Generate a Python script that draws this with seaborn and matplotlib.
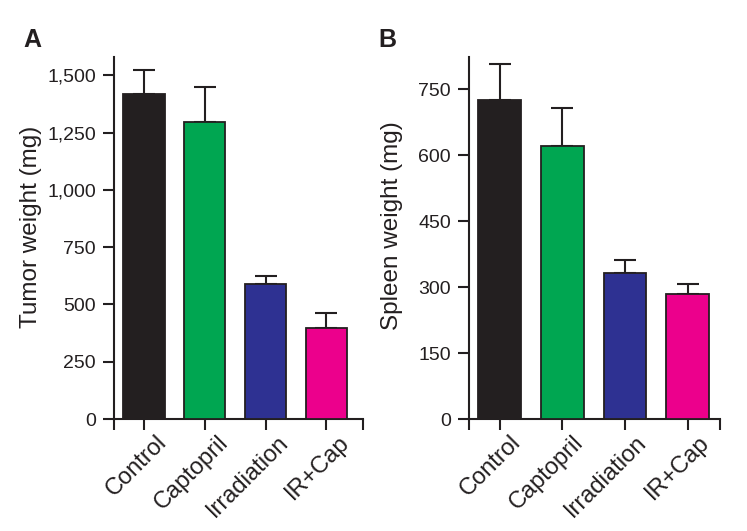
import numpy as np
import pandas as pd
import seaborn as sns
import matplotlib.pyplot as plt
from matplotlib.ticker import FuncFormatter
from matplotlib.transforms import ScaledTranslation

# Dados
grupos = ['Control', 'Captopril', 'Irradiation', 'IR+Cap']
cores = ['#231F20', '#00A651', '#2E3192', '#EC008C']

tumor_media = [1418, 1296, 589, 397]
tumor_erro = [104, 154, 36, 67]

baco_media = [725, 622, 333, 284]
baco_erro = [82, 87, 30, 24]

sns.set_style('ticks')
plt.rcParams['font.family'] = ['Liberation Sans', 'DejaVu Sans']

fig = plt.figure(figsize=(7.47, 5.31), dpi=100)


def painel(ax, medias, erros, ylim, yticks, ylabel, xlim, label_xy, desloc):
    df = pd.DataFrame({'grupo': grupos, 'valor': medias})
    sns.barplot(data=df, x='grupo', y='valor', hue='grupo', palette=cores,
                width=0.68, saturation=1, edgecolor='#231F20', linewidth=1.3,
                legend=False, ax=ax, zorder=3)
    pos = np.arange(len(grupos))
    ax.errorbar(pos, medias, yerr=[np.zeros(len(erros)), erros], fmt='none',
                ecolor='#231F20', elinewidth=1.5, capsize=8, capthick=1.5, zorder=2)
    ax.set_ylim(*ylim)
    ax.set_xlim(*xlim)
    ax.set_yticks(yticks)
    ax.yaxis.set_major_formatter(FuncFormatter(lambda v, p: f'{v:,.0f}'))
    ax.set_xticks(pos)
    ax.set_xticks(list(xlim), minor=True)
    ax.set_xlabel('')
    ax.set_ylabel(ylabel, fontsize=17.5, color='#231F20')
    ax.yaxis.set_label_coords(*label_xy)
    ax.tick_params(axis='both', which='both', length=8, width=1.5,
                   color='#231F20', labelcolor='#231F20')
    ax.tick_params(axis='y', labelsize=14, pad=5)
    ax.tick_params(axis='x', pad=1)
    ax.set_xticklabels(grupos, rotation=45, ha='right', va='top',
                       rotation_mode='anchor', fontsize=17)
    # deslocar rótulos um pouco para a direita, como no original
    for lbl in ax.get_xticklabels():
        lbl.set_transform(lbl.get_transform() + ScaledTranslation(desloc / 100, 0, fig.dpi_scale_trans))
    for s in ['left', 'bottom']:
        ax.spines[s].set_linewidth(1.5)
        ax.spines[s].set_color('#231F20')
    sns.despine(ax=ax)


axA = fig.add_axes([0.1526, 0.2109, 0.3333, 0.6818])
painel(axA, tumor_media, tumor_erro, (0, 1580), [0, 250, 500, 750, 1000, 1250, 1500],
       'Tumor weight (mg)', (-0.49, 3.6), (-0.289, 0.530), 12)

axB = fig.add_axes([0.628, 0.2109, 0.3356, 0.6818])
painel(axB, baco_media, baco_erro, (0, 824), [0, 150, 300, 450, 600, 750],
       'Spleen weight (mg)', (-0.485, 3.51), (-0.264, 0.534), 10)

fig.text(0.031, 0.948, 'A', fontsize=18, fontweight='bold', va='top', color='#231F20')
fig.text(0.507, 0.948, 'B', fontsize=18, fontweight='bold', va='top', color='#231F20')

plt.savefig('out.png', dpi=100)
